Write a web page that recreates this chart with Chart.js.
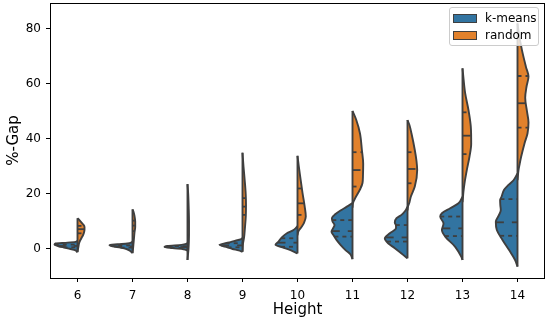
<!DOCTYPE html>
<html>
<head>
<meta charset="utf-8">
<script src="https://cdn.jsdelivr.net/npm/chart.js@4.4.1/dist/chart.umd.min.js"></script>
<style>
  html, body { margin: 0; padding: 0; background: #fff; }
  #wrap { position: relative; width: 550px; height: 324px; }
  #legend {
    position: absolute; left: 449px; top: 7px; width: 90px; height: 39px;
    box-sizing: border-box; border: 1px solid #cccccc; border-radius: 3px;
    background: rgba(255, 255, 255, 0.8);
    font: 12px 'DejaVu Sans', sans-serif; color: #000;
  }
  .patch { position: absolute; left: 3px; width: 24px; height: 9px; box-sizing: border-box; border: 1px solid #3f3f3f; }
  .lbl { position: absolute; left: 35px; line-height: 14px; white-space: nowrap; }
</style>
</head>
<body>
<div id="wrap">
  <canvas id="chart" width="550" height="324"></canvas>
  <div id="legend"></div>
</div>
<script>
const heights = ['6', '7', '8', '9', '10', '11', '12', '13', '14'];
const yTicks = [0, 20, 40, 60, 80];
const seriesNames = ['k-means', 'random'];

// violin outlines: [%-gap, density], low to high gap
const kmeansViolins = [
  [[-1.2, 0], [-0.5, 2], [0, 7], [0.5, 13], [1.0, 19], [1.5, 23], [2.0, 22], [2.3, 10], [2.6, 2], [3.0, 0]],
  [[-1.5, 0], [-0.8, 2], [0, 6], [0.5, 12], [1.0, 20], [1.4, 23], [1.7, 15], [2.0, 5], [2.4, 1], [2.8, 0]],
  [[-0.6, 0], [-0.1, 4], [0.3, 15], [0.7, 23], [1.1, 20], [1.5, 6], [1.9, 1], [2.2, 0]],
  [[-1.0, 0], [-0.5, 4], [0, 10], [0.5, 14], [1.0, 19], [1.5, 23], [2.0, 18], [2.5, 12], [3.0, 7], [3.5, 2], [4.0, 0]],
  [[-1.6, 0], [-0.4, 7], [0.6, 15], [1.5, 22], [2.7, 19], [4.2, 15.6], [5.7, 10.6], [6.7, 5], [7.5, 2], [8.3, 0]],
  [[-3.7, 0], [-2, 2], [-0.4, 7], [1.5, 12], [3.3, 16], [5, 19], [6.3, 21], [7.5, 19.5], [8.7, 18], [10, 20], [11.3, 20.6], [12.7, 17], [14, 12], [15.3, 6], [16.7, 0]],
  [[-3.4, 0], [-1.6, 6], [0.3, 12.7], [2.1, 19.4], [3.9, 22.7], [5.7, 17.7], [7.5, 11.5], [8.5, 11.5], [9.6, 12.7], [11.2, 11], [12.4, 6], [14, 2], [15.4, 0]],
  [[-4, 0], [-2.8, 1.3], [0.8, 7.3], [4.5, 17.3], [6.9, 20.6], [9.3, 19], [11.8, 22.3], [13, 20.6], [14.8, 12.3], [16.6, 4], [19, 0]],
  [[-6.4, 0], [-4, 2.4], [-0.4, 8.4], [3.3, 15], [6.9, 20.7], [9.9, 21.7], [12, 19], [14.2, 16.7], [16, 17.2], [17.8, 17.4], [19, 16], [21.5, 13.4], [23.3, 9], [25, 4], [27.5, 0]]
];
const randomViolins = [
  [[-1, 0], [0, 0.5], [1, 1], [2, 1.5], [3, 2.5], [4, 4], [5, 5.5], [6, 6.5], [7, 7], [8, 7], [9, 5.5], [10, 3], [10.7, 1.5], [11.2, 0]],
  [[-1.5, 0], [0, 0.5], [2, 1], [4, 1.5], [6, 2], [8, 2.7], [10, 2.7], [12, 2], [13.5, 1], [14.4, 0]],
  [[-4, 0], [-2, 0.5], [0, 1], [5, 1.5], [10, 1.5], [15, 1.2], [20, 0.7], [23.6, 0]],
  [[-1, 0], [2, 0.5], [4, 1.5], [8, 2.5], [12, 3.3], [16, 3.5], [20, 3.2], [25, 2.2], [30, 1], [35, 0]],
  [[5, 0], [6.5, 1], [8, 4], [9.5, 6.5], [11.8, 8.3], [15.4, 7.2], [20.4, 5], [26.3, 2.7], [30, 1.3], [33.9, 0]],
  [[15, 0], [16.7, 0.5], [18, 2], [20, 5], [22, 8], [24, 10], [27, 10.5], [31, 10.7], [36, 9.4], [42, 7.5], [47, 3.7], [50.2, 0]],
  [[14, 0], [15.4, 0.5], [17, 2], [19, 3.3], [22.7, 7.3], [28.7, 9.7], [32, 9], [36, 7.3], [42, 4], [45, 2], [46.9, 0]],
  [[17, 0], [19, 0.5], [21, 1], [23.9, 2], [28.7, 4.3], [33.6, 7], [38.4, 8.7], [44.5, 8.3], [50.5, 6], [56.6, 2.7], [62, 1], [65.7, 0]],
  [[25, 0], [28.7, 1], [31, 2.2], [33.6, 3.7], [38.4, 7], [42, 10], [46, 11], [50, 9.5], [55, 7.7], [59, 9], [62.7, 11], [66.3, 8.4], [72.4, 4.4], [78, 1.5], [82, 0]]
];
// [q1, median, q3]
const kmeansQuartiles = [
  [0.6, 1.1, 1.6], [0.5, 0.9, 1.3], [0.4, 0.7, 1.0], [0.6, 1.3, 2.1], [0.8, 2.3, 3.9],
  [4.5, 6.5, 10.5], [2.7, 4.2, 8.7], [4.7, 7.5, 11.8], [4.8, 9.7, 18.1]
];
const randomQuartiles = [
  [5.7, 7.2, 8.4], [6.5, 8.5, 10.3], [2, 5, 10], [12.4, 15.4, 18.5], [12.4, 16.6, 22],
  [22.7, 28.7, 35.2], [23.9, 29.1, 35.2], [34.5, 41.2, 49.7], [44.1, 53, 62.9]
];

const BLUE = '#3274a1';
const ORANGE = '#e1812c';
const EDGE = '#3f3f3f';
const widthScale = 0.418 / 23; // density -> fraction of a category

function densityAt(profile, v) {
  for (let k = 1; k < profile.length; k++) {
    const [v0, d0] = profile[k - 1];
    const [v1, d1] = profile[k];
    if (v >= v0 && v <= v1) return d0 + (d1 - d0) * (v - v0) / (v1 - v0);
  }
  return 0;
}

const datasets = [];
heights.forEach((h, i) => {
  const halves = [
    { profiles: kmeansViolins, quarts: kmeansQuartiles, side: -1, color: BLUE },
    { profiles: randomViolins, quarts: randomQuartiles, side: 1, color: ORANGE }
  ];
  halves.forEach(({ profiles, quarts, side, color }) => {
    const prof = profiles[i];
    datasets.push({
      data: prof.map(([v, d]) => ({ x: i + side * d * widthScale, y: v })),
      backgroundColor: color,
      borderColor: EDGE,
      borderWidth: 1.9,
      fill: { value: i },
      cubicInterpolationMode: 'monotone',
      pointRadius: 0,
      order: 2
    });
    quarts[i].forEach((q, k) => {
      const w = densityAt(prof, q) * widthScale;
      const edge = { x: i + side * w, y: q };
      const mid = { x: i, y: q };
      datasets.push({
        data: side < 0 ? [edge, mid] : [mid, edge],
        borderColor: EDGE,
        borderWidth: 1.8,
        borderDash: k === 1 ? [8, 8] : [4, 4],
        fill: false,
        pointRadius: 0,
        order: 1
      });
    });
  });
  // shared centre line of the split violin
  const lo = Math.min(kmeansViolins[i][0][0], randomViolins[i][0][0]);
  const hi = Math.max(kmeansViolins[i][kmeansViolins[i].length - 1][0], randomViolins[i][randomViolins[i].length - 1][0]);
  datasets.push({
    data: [{ x: i, y: lo }, { x: i, y: hi }],
    borderColor: EDGE,
    borderWidth: 1.9,
    fill: false,
    pointRadius: 0,
    order: 1
  });
});

// axes frame (all four spines)
const framePlugin = {
  id: 'frame',
  afterDraw(chart) {
    const { ctx, chartArea: a } = chart;
    ctx.save();
    ctx.strokeStyle = '#000';
    ctx.lineWidth = 1;
    ctx.strokeRect(a.left + 0.5, a.top + 0.5, a.right - a.left - 1, a.bottom - a.top);
    ctx.restore();
  }
};

Chart.defaults.font.family = "'DejaVu Sans', sans-serif";
Chart.defaults.font.size = 12;
Chart.defaults.color = '#000';

new Chart(document.getElementById('chart'), {
  type: 'line',
  data: { datasets },
  options: {
    indexAxis: 'y',
    responsive: false,
    animation: false,
    layout: { padding: { top: 3, right: 5, left: 0, bottom: 0 } },
    plugins: { legend: { display: false }, tooltip: { enabled: false } },
    scales: {
      x: {
        type: 'linear',
        min: -0.5,
        max: 8.5,
        afterBuildTicks: s => { s.ticks = heights.map((h, i) => ({ value: i })); },
        afterFit: s => { s.height = 46; s.paddingLeft = 0; s.paddingRight = 0; },
        ticks: { callback: v => heights[v], padding: 7, maxRotation: 0, autoSkip: false },
        grid: { drawOnChartArea: false, drawTicks: true, tickLength: 4, tickColor: '#000', tickWidth: 1 },
        border: { display: false },
        title: { display: true, text: 'Height', font: { size: 15 }, padding: { top: 0, bottom: 5 } }
      },
      y: {
        type: 'linear',
        min: -10.55,
        max: 89.45,
        afterBuildTicks: s => { s.ticks = yTicks.map(v => ({ value: v })); },
        afterFit: s => { s.width = 50; s.paddingTop = 0; s.paddingBottom = 0; },
        ticks: { padding: 5 },
        grid: { drawOnChartArea: false, drawTicks: true, tickLength: 4, tickColor: '#000', tickWidth: 1 },
        border: { display: false },
        title: { display: true, text: '%-Gap', font: { size: 15 }, padding: { top: 5, bottom: 0 } }
      }
    }
  },
  plugins: [framePlugin]
});

// legend
const legend = document.getElementById('legend');
[BLUE, ORANGE].forEach((c, k) => {
  const p = document.createElement('div');
  p.className = 'patch';
  p.style.top = (6 + k * 17) + 'px';
  p.style.background = c;
  legend.appendChild(p);
  const t = document.createElement('div');
  t.className = 'lbl';
  t.style.top = (3 + k * 17) + 'px';
  t.textContent = seriesNames[k];
  legend.appendChild(t);
});
</script>
</body>
</html>
